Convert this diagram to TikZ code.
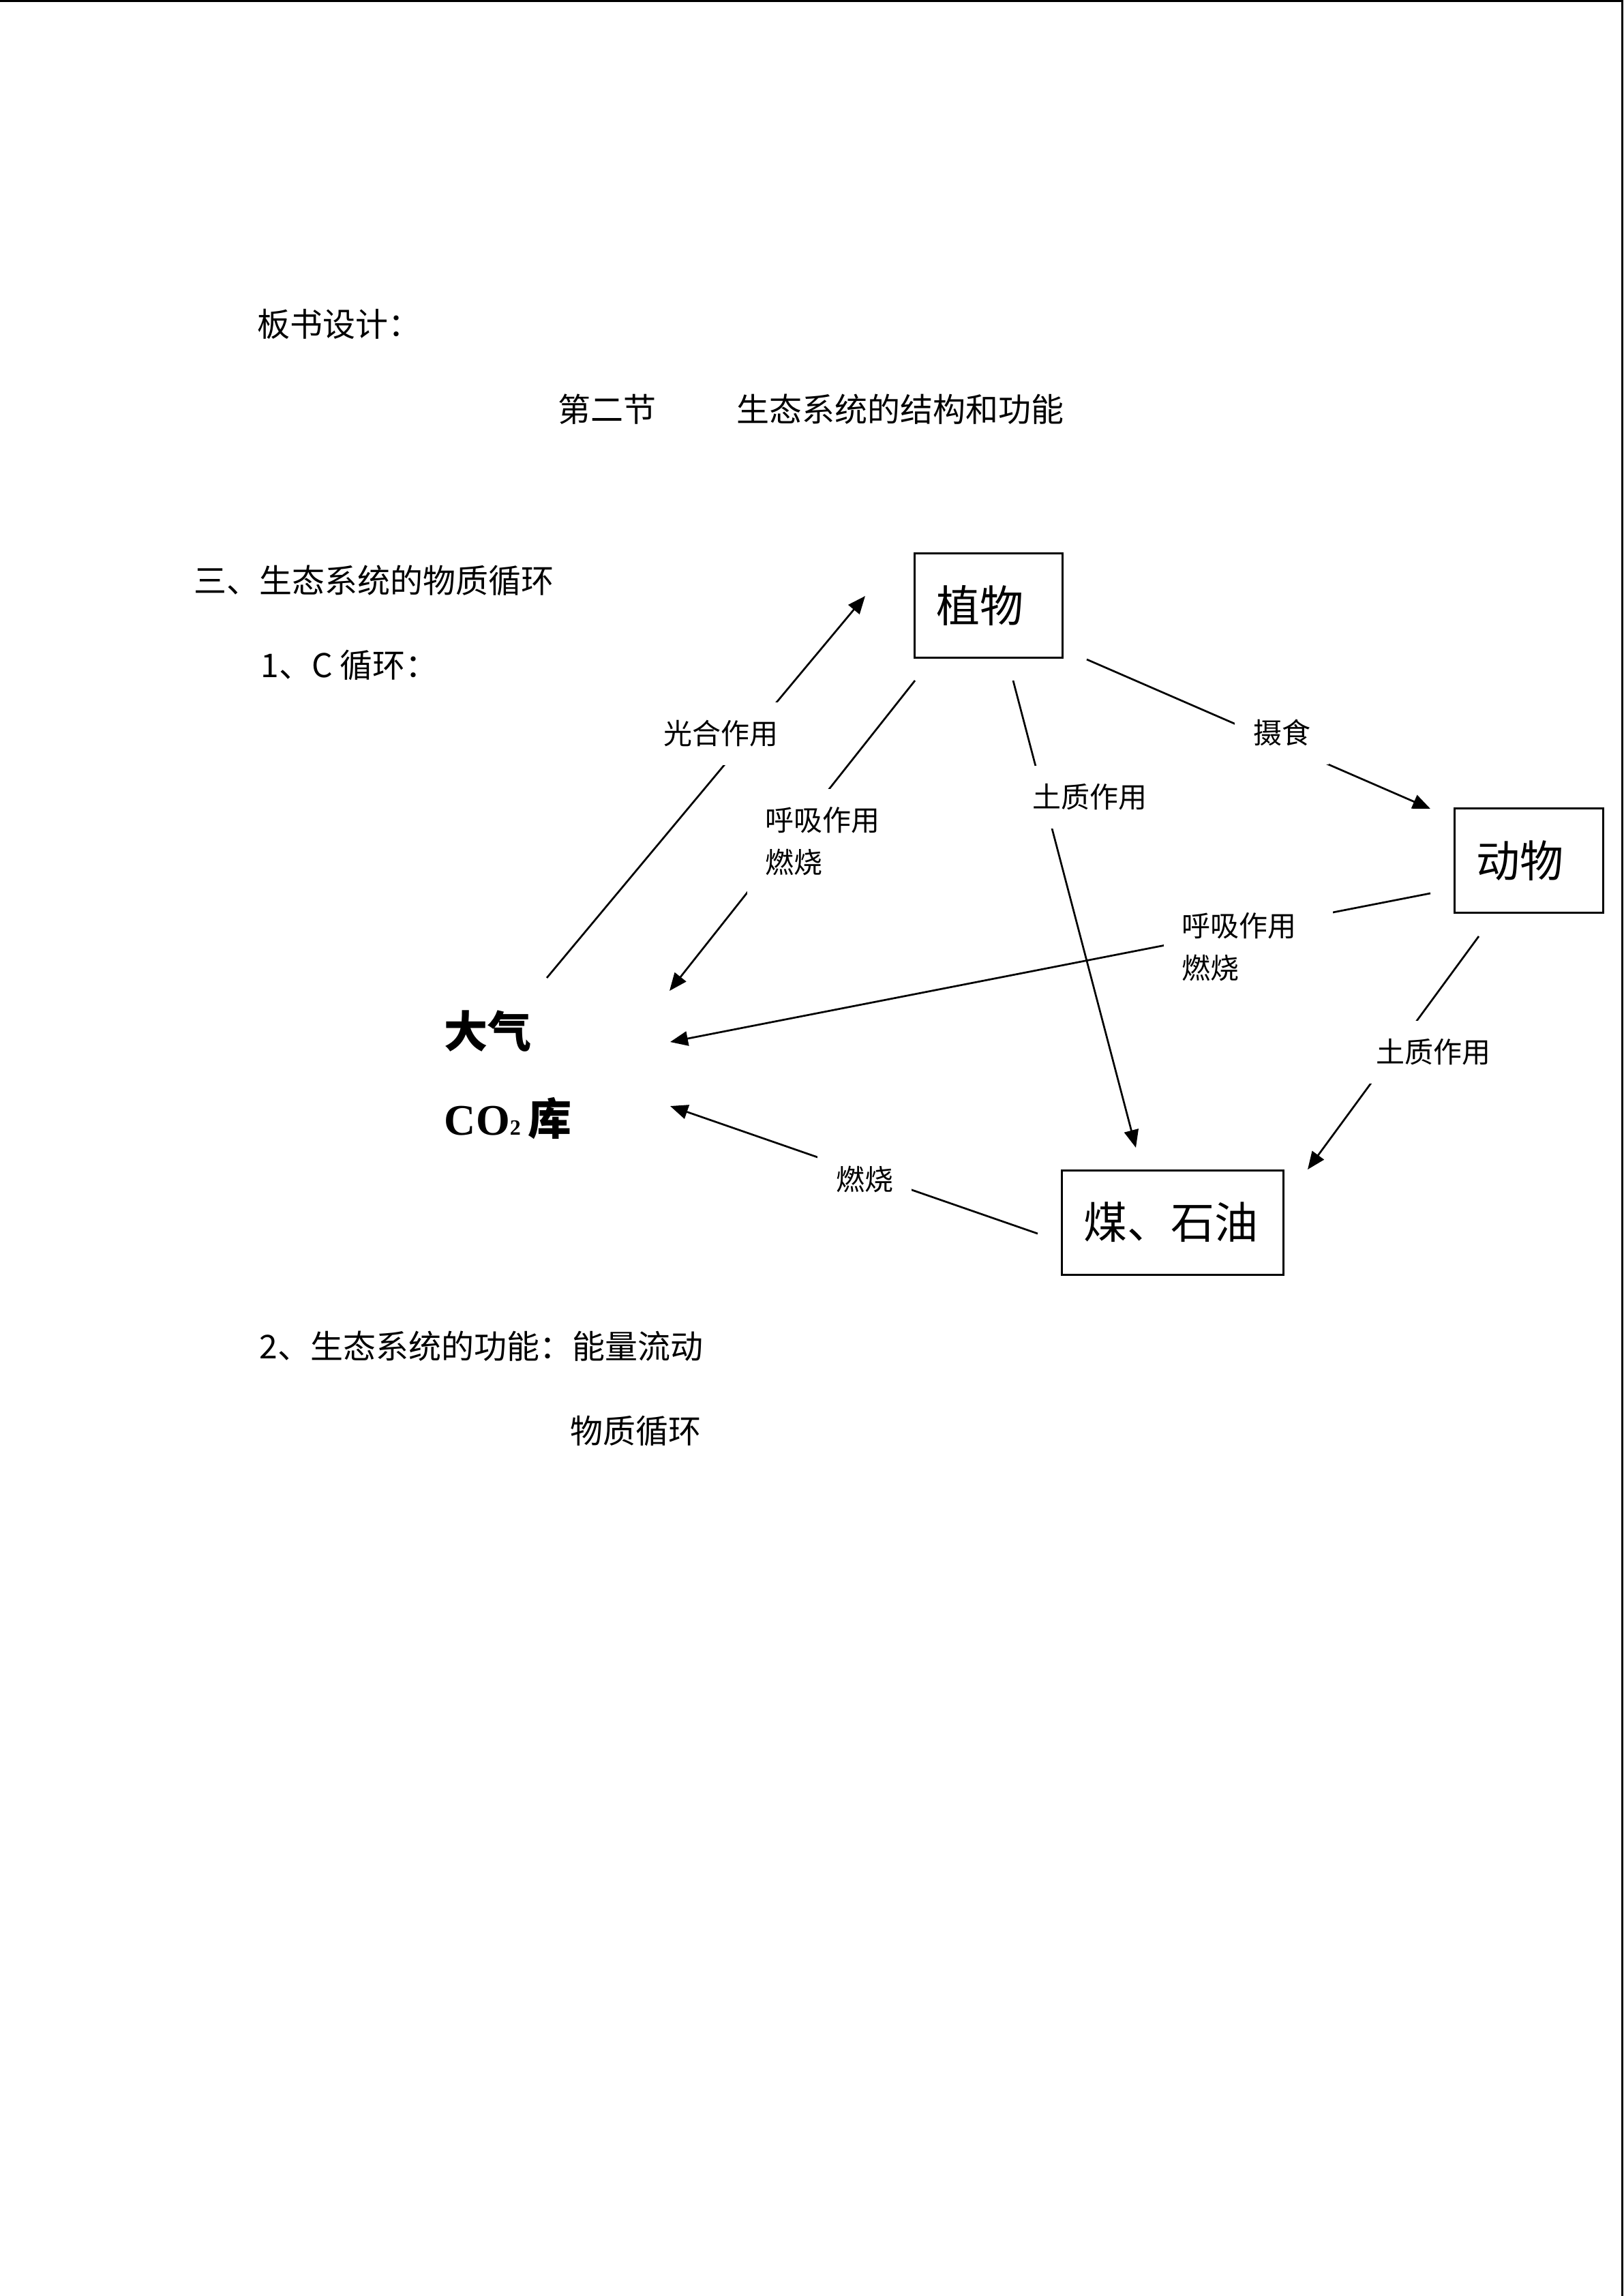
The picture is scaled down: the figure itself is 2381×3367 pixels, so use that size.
\documentclass[tikz,border=0pt]{standalone}
\usepackage{fontspec}
\setmainfont{Noto Sans CJK SC}
\newfontfamily\timesfont{Liberation Serif}
\usetikzlibrary{arrows.meta}
\tikzset{
  body/.style={anchor=west, inner sep=0pt, font=\fontsize{12pt}{14pt}\selectfont, text height=10pt, text depth=1pt},
  big/.style={anchor=west, inner sep=0pt, font=\bfseries\fontsize{16pt}{19pt}\selectfont, text height=13.4pt, text depth=1.3pt},
  box/.style={draw, line width=0.75pt, inner xsep=8pt, inner ysep=0pt, align=left, minimum height=38.25pt, font=\fontsize{16pt}{19pt}\selectfont},
  conn/.style={line width=0.68pt, -{Triangle[length=6.5pt,width=5.3pt]}},
  lbl/.style={fill=white, inner sep=6.75pt, font=\fontsize{10.5pt}{15.5pt}\selectfont, text height=8.8pt, text depth=0.85pt},
  lbltwo/.style={fill=white, inner sep=6.75pt, align=left, anchor=north west, font=\fontsize{10.5pt}{15.5pt}\selectfont},
  frame/.style={line width=0.8pt}
}
\begin{document}
\begin{tikzpicture}[x=0.25pt, y=-0.25pt]
\useasboundingbox (0,0) rectangle (2381,3367);
% page frame (top and right edges)
\draw[frame] (0,1.6) -- (2379.4,1.6) -- (2379.4,3367);

% body text
\node[body] (t_bs) at (377,475) {板书设计：};
\node[body] (t_h1) at (818,600) {第二节};
\node[body] (t_h2) at (1080,600) {生态系统的结构和功能};
\node[body] (t_s3) at (284,851) {三、生态系统的物质循环};
\node[body] (t_c) at (382,975) {1、C 循环：};
\node[body] (t_f1) at (380,1974) {2、生态系统的功能：能量流动};
\node[body] (t_f2) at (836,2098) {物质循环};

% boxes
\node[box, text width=38.25pt] (zw) at (1449.5,887.5) {植物};
\node[box, text width=38.5pt] (dw) at (2242,1262) {动物};
\node[box, text width=65.25pt] (mt) at (1719.5,1792.5) {煤、石油};

% atmosphere
\node[big] (dq) at (651,1512) {大气};
\node[big] (co) at (651,1640) {{\timesfont CO{\fontsize{8pt}{8pt}\selectfont 2}}\,库};

% connector end points
\coordinate (gh1) at (802,1434);   \coordinate (gh2) at (1269,874);
\coordinate (hx1a) at (1342,998);  \coordinate (hx1b) at (982,1453);
\coordinate (tz1a) at (1486,998);  \coordinate (tz1b) at (1666,1683);
\coordinate (ssa) at (1594,967);   \coordinate (ssb) at (2098,1186);
\coordinate (hx2a) at (2098,1310); \coordinate (hx2b) at (983,1528);
\coordinate (tz2a) at (2169,1373); \coordinate (tz2b) at (1918,1715);
\coordinate (rsa) at (1522,1809);  \coordinate (rsb) at (983,1622);

% connectors
\draw[conn] (gh1) -- (gh2);
\draw[conn] (hx1a) -- (hx1b);
\draw[conn] (tz1a) -- (tz1b);
\draw[conn] (ssa) -- (ssb);
\draw[conn] (hx2a) -- (hx2b);
\draw[conn] (tz2a) -- (tz2b);
\draw[conn] (rsa) -- (rsb);

% connector labels (white boxes break the lines)
\node[lbl] (l_gh) at (1057,1076) {光合作用};
\node[lbltwo] (l_hx1) at (1095,1156) {呼吸作用\\燃烧};
\node[lbl] (l_tz1) at (1598,1169) {土质作用};
\node[lbl] (l_ss) at (1880,1075) {摄食};
\node[lbltwo, text width=48.5pt] (l_hx2) at (1706,1311) {呼吸作用\\燃烧};
\node[lbl] (l_tz2) at (2102,1543) {土质作用};
\node[lbl] (l_rs) at (1268,1730) {燃烧};
\end{tikzpicture}
\end{document}
